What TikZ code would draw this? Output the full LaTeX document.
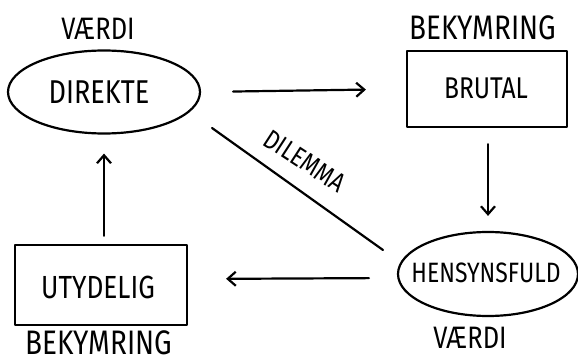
\documentclass[tikz,border=0pt]{standalone}
\usepackage{fontspec}
\setmainfont{Fira Sans}[FakeStretch=0.82]
\usetikzlibrary{shapes.geometric,arrows.meta}

\newcommand{\pensize}[1]{\fontsize{#1}{#1}\selectfont}

\tikzset{
  pen/.style={line width=2.2pt, line cap=round, line join=round},
  oval/.style={pen, draw, ellipse, inner sep=0pt},
  box/.style={pen, draw, rectangle, inner sep=0pt},
  flow/.style={pen, -{Straight Barb[length=8pt,width=14pt,line width=2.2pt]}},
  word/.style={inner sep=0pt},
}

\begin{document}
\begin{tikzpicture}[x=1pt, y=-1pt]
  \useasboundingbox (0,0) rectangle (578,363);

  % the four positions around the cycle
  \node[oval, minimum width=192pt, minimum height=83pt] (dir) at (104,92) {};
  \node[word, font=\pensize{33}] (dirtxt) at (99,92) {DIREKTE};
  \node[box, minimum width=160pt, minimum height=76pt] (brut) at (487,89) {};
  \node[word, font=\pensize{30}] (bruttxt) at (486,88) {BRUTAL};
  \node[oval, minimum width=180pt, minimum height=84pt] (hens) at (488,274) {};
  \node[word, font=\pensize{28}] (henstxt) at (486,273) {HENSYNSFULD};
  \node[box, minimum width=172pt, minimum height=80pt] (utyd) at (101,285) {};
  \node[word, font=\pensize{32}] (utydtxt) at (98,287) {UTYDELIG};

  % captions
  \node[word, font=\pensize{31}] (v1) at (98,29) {VÆRDI};
  \node[word, font=\pensize{34}] (b1) at (483,28) {BEKYMRING};
  \node[word, font=\pensize{31}] (v2) at (470,338) {VÆRDI};
  \node[word, font=\pensize{34}] (b2) at (99,343) {BEKYMRING};

  % arrows between the positions
  \draw[flow, shorten <=32pt, shorten >=40pt] (dir.east) -- (brut.west);
  \draw[flow, shorten <=16pt, shorten >=15pt] ([xshift=1pt]brut.south) -- (hens.north);
  \draw[flow, shorten <=28pt, shorten >=38pt] ([yshift=-4pt]hens.west) -- ([yshift=6pt]utyd.east);
  \draw[flow, shorten <=8pt, shorten >=19pt] ([xshift=3pt]utyd.north) -- (dir.south);

  % the dilemma diagonal
  \coordinate (d1) at (212,128);
  \coordinate (d2) at (383,250);
  \draw[pen] (d1) -- (d2);
  \node[word, font=\pensize{27}, rotate=-33] (dil) at (305,161) {DILEMMA};
\end{tikzpicture}
\end{document}
